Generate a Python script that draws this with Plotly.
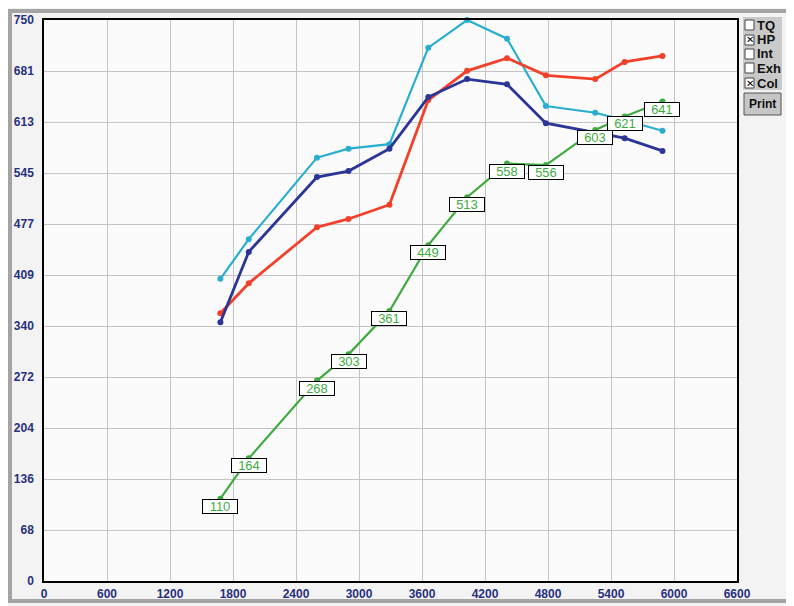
import plotly.graph_objects as go

# ---- data ----
rpm = [1680, 1950, 2600, 2900, 3290, 3660, 4030, 4410, 4780, 5250, 5530, 5890]
cyan_vals = [404, 457, 566, 578, 584, 713, 750, 725, 635, 626, 616, 602]
blue_vals = [346, 440, 540, 548, 578, 647, 671, 664, 612, 600, 592, 575]
red_vals = [358, 398, 473, 484, 503, 643, 682, 699, 676, 671, 694, 702]
hp_vals = [110, 164, 268, 303, 361, 449, 513, 558, 556, 603, 621, 641]

y_tick_labels = ["0", "68", "136", "204", "272", "340", "409", "477", "545", "613", "681", "750"]
x_tick_labels = ["0", "600", "1200", "1800", "2400", "3000", "3600", "4200", "4800", "5400", "6000", "6600"]
legend_items = ["TQ", "HP", "Int", "Exh", "Col"]
legend_checked = [False, True, False, False, True]

# the page body has an 8px margin, so the figure is drawn 8px in from the window edge
OFF = 8
W, H = 794 - OFF, 606 - OFF
ML, MT = 44 - OFF, 20 - OFF
MR, MB = W - (737 - OFF), H - (581 - OFF)
PW, PH = W - ML - MR, H - MT - MB
Y_MAX = 750
X_MAX = 6600


def px(x):
    """window pixel x -> paper coordinate"""
    return (x - OFF - ML) / PW


def py(y):
    """window pixel y -> paper coordinate"""
    return (H - MB - (y - OFF)) / PH


NAVY = "#27307e"
GREEN = "#3faa3f"

fig = go.Figure()

series = [
    (cyan_vals, "#2aaed0", 2.2),
    (red_vals, "#f2402a", 2.8),
    (blue_vals, "#2b3596", 2.8),
    (hp_vals, GREEN, 2.2),
]
for vals, col, lw in series:
    fig.add_trace(go.Scatter(
        x=rpm, y=vals, mode="lines+markers",
        line=dict(color=col, width=lw),
        marker=dict(color=col, size=6),
        cliponaxis=False, showlegend=False, hoverinfo="skip",
    ))

# value labels on the green curve
for x, v in zip(rpm, hp_vals):
    fig.add_annotation(
        x=x, y=v, xref="x", yref="y", text=str(v), showarrow=False,
        xanchor="center", yanchor="top",
        font=dict(family="Arial", size=13, color=GREEN),
        bgcolor="white", bordercolor="black", borderwidth=1,
        borderpad=0, width=34, height=13,
    )

shapes = []
# outer window frame
shapes.append(dict(type="rect", xref="paper", yref="paper",
                   x0=px(10), x1=px(789), y0=py(601), y1=py(11),
                   line=dict(color="#a4a4a4", width=4), fillcolor="rgba(0,0,0,0)",
                   layer="below"))
# legend panel
shapes.append(dict(type="rect", xref="paper", yref="paper",
                   x0=px(743), x1=px(782), y0=py(90), y1=py(17),
                   line=dict(width=0), fillcolor="#c9c9c9"))
# print button
shapes.append(dict(type="rect", xref="paper", yref="paper",
                   x0=px(744), x1=px(781), y0=py(115), y1=py(93),
                   line=dict(color="#555555", width=1), fillcolor="#c6c6c6"))

legend_y = [25, 40, 54, 68, 83]
for name, chk, yc in zip(legend_items, legend_checked, legend_y):
    shapes.append(dict(type="rect", xref="paper", yref="paper",
                       x0=px(745), x1=px(754), y0=py(yc + 5), y1=py(yc - 5),
                       line=dict(color="#444444", width=1), fillcolor="white"))
    if chk:
        fig.add_annotation(x=px(749.5), y=py(yc), xref="paper", yref="paper",
                           text="✕", showarrow=False, xanchor="center", yanchor="middle",
                           font=dict(family="DejaVu Sans", size=10, color="black", weight="bold"))
    fig.add_annotation(x=px(755), y=py(yc), xref="paper", yref="paper",
                       text=name, showarrow=False,
                       xanchor="left", yanchor="middle",
                       font=dict(family="Arial", size=13, color="#111111", weight="bold"))

fig.add_annotation(x=px(762.5), y=py(104), xref="paper", yref="paper",
                   text="Print", showarrow=False, xanchor="center", yanchor="middle",
                   font=dict(family="Arial", size=12, color="#111111", weight="bold"))

y_ticks = [i * Y_MAX / (len(y_tick_labels) - 1) for i in range(len(y_tick_labels))]
x_ticks = [float(t) for t in x_tick_labels]

tickfont = dict(family="Arial", size=12, color=NAVY, weight="bold")

fig.update_layout(
    width=W, height=H,
    margin=dict(l=ML, r=MR, t=MT, b=MB, autoexpand=False),
    paper_bgcolor="#f3f3f3",
    plot_bgcolor="#fbfbfb",
    shapes=shapes,
    xaxis=dict(
        range=[0, X_MAX], tickvals=x_ticks, ticktext=x_tick_labels,
        showgrid=True, gridcolor="#c4c4c4", gridwidth=1,
        showline=True, linecolor="black", linewidth=1.5, mirror=True,
        zeroline=False, ticks="", automargin=False,
        tickfont=tickfont, ticklabelstandoff=1,
    ),
    yaxis=dict(
        range=[0, Y_MAX], tickvals=y_ticks, ticktext=y_tick_labels,
        showgrid=True, gridcolor="#c4c4c4", gridwidth=1,
        showline=True, linecolor="black", linewidth=1.5, mirror=True,
        zeroline=False, ticks="", automargin=False,
        tickfont=tickfont, ticklabelstandoff=6,
    ),
)

fig.write_html("out.html")
